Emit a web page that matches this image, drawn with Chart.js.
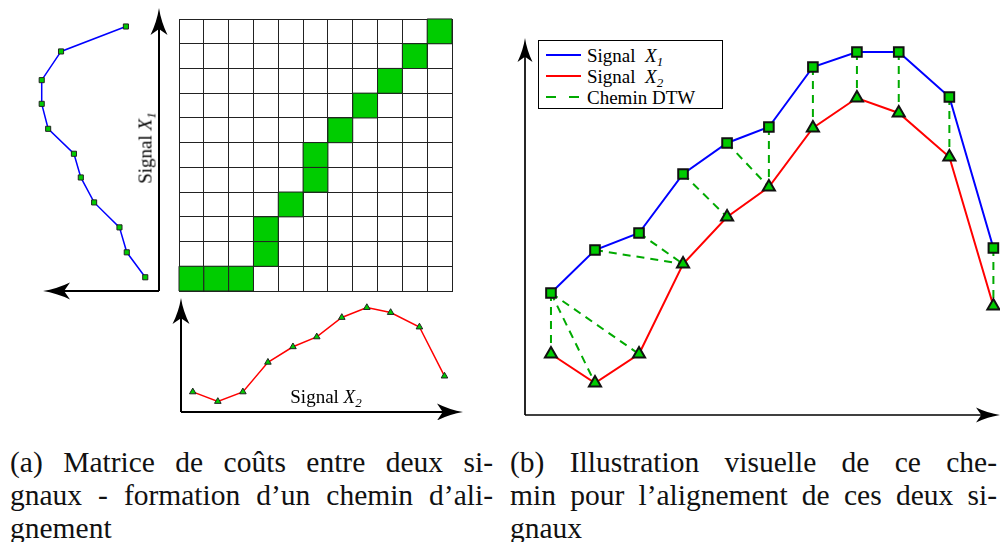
<!DOCTYPE html>
<html>
<head>
<meta charset="utf-8">
<script src="https://cdn.jsdelivr.net/npm/chart.js@4.4.1/dist/chart.umd.min.js"></script>
<style>
html, body { margin: 0; padding: 0; background: #fff; }
#page { position: relative; width: 1000px; height: 542px; overflow: hidden; }
canvas { position: absolute; }
.lbl { position: absolute; font-family: "Liberation Serif", "Times New Roman", serif; font-size: 19px; line-height: 1; color: #000; white-space: nowrap; }
.lbl sub, #legend sub { font-size: 13px; vertical-align: -4px; line-height: 0; }
.cap { position: absolute; font-family: "Liberation Serif", "Times New Roman", serif; font-size: 29.5px; line-height: 33px; color: #111; }
.cap span { display: block; white-space: nowrap; text-align: justify; text-align-last: justify; }
.cap span.last { text-align-last: left; }
#legend { position: absolute; left: 538px; top: 40px; width: 185px; height: 69px; border: 1.5px solid #000; box-sizing: border-box; background: #fff; }
#legend .row { position: absolute; left: 0; height: 21px; width: 100%; }
#legend svg { position: absolute; left: 7px; top: 0; }
#legend .txt { position: absolute; left: 48px; top: 1px; font-family: "Liberation Serif", "Times New Roman", serif; font-size: 19px; line-height: 19px; white-space: nowrap; }
</style>
</head>
<body>
<div id="page">
  <canvas id="sigX1" width="170" height="300" style="left:0;top:0"></canvas>
  <canvas id="matrix" width="290" height="290" style="left:170px;top:10px"></canvas>
  <canvas id="sigX2" width="310" height="135" style="left:160px;top:285px"></canvas>
  <canvas id="dtw" width="490" height="420" style="left:510px;top:15px"></canvas>

  <div class="lbl" style="left:145px;top:148px;transform:translate(-50%,-50%) rotate(-90deg)">Signal <i>X<sub>1</sub></i></div>
  <div class="lbl" style="left:326px;top:396px;transform:translate(-50%,-50%)">Signal <i>X<sub>2</sub></i></div>

  <div id="legend">
    <div class="row" style="top:4px">
      <svg width="36" height="21"><line x1="0" y1="10" x2="35" y2="10" stroke="#0000ff" stroke-width="2"/></svg>
      <div class="txt">Signal&nbsp; <i>X<sub>1</sub></i></div>
    </div>
    <div class="row" style="top:25px">
      <svg width="36" height="21"><line x1="0" y1="10" x2="35" y2="10" stroke="#ff0000" stroke-width="2"/></svg>
      <div class="txt">Signal&nbsp; <i>X<sub>2</sub></i></div>
    </div>
    <div class="row" style="top:46px">
      <svg width="36" height="21"><line x1="0" y1="10" x2="35" y2="10" stroke="#00aa00" stroke-width="2" stroke-dasharray="10,13"/></svg>
      <div class="txt">Chemin DTW</div>
    </div>
  </div>

  <div class="cap" style="left:10px;top:446px;width:483px">
    <span>(a) Matrice de coûts entre deux si-</span>
    <span>gnaux - formation d’un chemin d’ali-</span>
    <span class="last">gnement</span>
  </div>
  <div class="cap" style="left:510px;top:446px;width:487px">
    <span>(b) Illustration visuelle de ce che-</span>
    <span>min pour l’alignement de ces deux si-</span>
    <span class="last">gnaux</span>
  </div>
</div>

<script>
// instants d'échantillonnage (communs aux deux signaux)
const t = [1, 2, 3, 4, 5, 5.95, 6.95, 7.95, 8.9, 10.05, 11.05];
// valeurs des signaux
const signalX1 = [12.2, 16.5, 18.2, 24.1, 27.2, 28.8, 34.8, 36.3, 36.3, 31.8, 16.7];
const signalX2 = [6.1, 3.2, 6.1, 15.1, 19.8, 22.8, 28.7, 31.7, 30.2, 25.8, 10.9];
// chemin DTW : indice dans X1, indice dans X2
const pathX1 = [0, 0, 0, 1, 2, 3, 4, 5, 6, 7, 8, 9, 10];
const pathX2 = [0, 1, 2, 3, 3, 4, 5, 5, 6, 7, 8, 9, 10];
const nCells = 11;

const BLUE = '#0000ff';
const RED = '#ff0000';
const GREEN = '#00cc00';
const GREEN_DASH = '#00aa00';

// pointe de flèche type "stealth"
function arrowHead(ctx, x, y, ang, L, W) {
    ctx.save();
    ctx.translate(x, y);
    ctx.rotate(ang);
    ctx.beginPath();
    ctx.moveTo(0, 0);
    ctx.quadraticCurveTo(-L * 0.5, -W * 0.12, -L, -W / 2);
    ctx.lineTo(-L * 0.78, 0);
    ctx.lineTo(-L, W / 2);
    ctx.quadraticCurveTo(-L * 0.5, W * 0.12, 0, 0);
    ctx.fill();
    ctx.restore();
}

// axe = segment + flèche
function axis(ctx, x0, y0, x1, y1, L, W, lw) {
    const ang = Math.atan2(y1 - y0, x1 - x0);
    const ex = x1 - Math.cos(ang) * L * 0.7;
    const ey = y1 - Math.sin(ang) * L * 0.7;
    ctx.save();
    ctx.strokeStyle = '#000';
    ctx.fillStyle = '#000';
    ctx.lineWidth = lw;
    ctx.beginPath();
    ctx.moveTo(x0, y0);
    ctx.lineTo(ex, ey);
    ctx.stroke();
    arrowHead(ctx, x1, y1, ang, L, W);
    ctx.restore();
}

function baseOptions(pad, xs, ys) {
    return {
        responsive: false,
        animation: false,
        events: [],
        layout: { padding: pad, autoPadding: false },
        plugins: { legend: { display: false }, tooltip: { enabled: false } },
        scales: { x: xs, y: ys }
    };
}

// (a) signal X1, vertical
new Chart(document.getElementById('sigX1'), {
    type: 'scatter',
    data: {
        datasets: [{
            data: signalX1.map((v, i) => ({ x: v, y: t[i] })),
            showLine: true,
            borderColor: BLUE,
            borderWidth: 1.5,
            pointStyle: 'rect',
            pointRadius: 3.6,
            pointBackgroundColor: GREEN,
            pointBorderColor: '#222',
            pointBorderWidth: 1,
            clip: false
        }]
    },
    options: baseOptions({ left: 43, right: 11, top: 19, bottom: 9 },
        { type: 'linear', min: 9, max: 36, reverse: true, display: false },
        { type: 'linear', min: 0.45, max: 11.35, display: false }),
    plugins: [{
        id: 'axesX1',
        afterDraw(chart) {
            const a = chart.chartArea;
            axis(chart.ctx, a.right, a.bottom, a.right, a.top - 11, 27, 17, 2);
            axis(chart.ctx, a.right, a.bottom, a.left, a.bottom, 27, 17, 2);
        }
    }]
});

// (a) matrice de coûts
const cellSize = c => {
    const s = c.chart.scales.x;
    return Math.abs(s.getPixelForValue(1) - s.getPixelForValue(0)) / Math.SQRT2;
};
new Chart(document.getElementById('matrix'), {
    type: 'scatter',
    data: {
        datasets: [{
            data: pathX1.map((i, k) => ({ x: pathX2[k] + 0.5, y: i + 0.5 })),
            pointStyle: 'rect',
            pointRadius: cellSize,
            pointBackgroundColor: GREEN,
            pointBorderColor: '#222',
            pointBorderWidth: 1,
            clip: false
        }]
    },
    options: baseOptions({ left: 9, right: 8, top: 9, bottom: 9 },
        {
            type: 'linear', min: 0, max: nCells,
            ticks: { display: false, stepSize: 1 },
            grid: { color: '#222', lineWidth: 1, drawTicks: false },
            border: { display: true, color: '#222', width: 1 }
        },
        {
            type: 'linear', min: 0, max: nCells,
            ticks: { display: false, stepSize: 1 },
            grid: { color: '#222', lineWidth: 1, drawTicks: false },
            border: { display: true, color: '#222', width: 1 }
        })
});

// (a) signal X2, horizontal
new Chart(document.getElementById('sigX2'), {
    type: 'scatter',
    data: {
        datasets: [{
            data: signalX2.map((v, i) => ({ x: t[i], y: v })),
            showLine: true,
            borderColor: RED,
            borderWidth: 1.5,
            pointStyle: 'triangle',
            pointRadius: 3.8,
            pointBackgroundColor: GREEN,
            pointBorderColor: '#222',
            pointBorderWidth: 1,
            clip: false
        }]
    },
    options: baseOptions({ left: 19, right: 18, top: 15, bottom: 8 },
        { type: 'linear', min: 0.45, max: 11.35, display: false },
        { type: 'linear', min: 0, max: 34, display: false }),
    plugins: [{
        id: 'axesX2',
        afterDraw(chart) {
            const a = chart.chartArea;
            axis(chart.ctx, a.left + 2, a.bottom, a.left + 2, a.top - 2, 26, 17, 2);
            axis(chart.ctx, a.left + 2, a.bottom, a.right + 11, a.bottom, 26, 17, 2);
        }
    }]
});

// (b) illustration du chemin
const dtwSets = pathX1.map((i, k) => ({
    data: [{ x: t[i], y: signalX1[i] }, { x: t[pathX2[k]], y: signalX2[pathX2[k]] }],
    showLine: true,
    borderColor: GREEN_DASH,
    borderWidth: 2,
    borderDash: [8, 6],
    pointRadius: 0,
    clip: false
}));

new Chart(document.getElementById('dtw'), {
    type: 'scatter',
    data: {
        datasets: [
            {
                label: 'Signal X1',
                data: signalX1.map((v, i) => ({ x: t[i], y: v })),
                showLine: true,
                borderColor: BLUE,
                borderWidth: 2,
                pointStyle: 'rect',
                pointRadius: 6.8,
                pointBackgroundColor: GREEN,
                pointBorderColor: '#111',
                pointBorderWidth: 2,
                clip: false
            },
            {
                label: 'Signal X2',
                data: signalX2.map((v, i) => ({ x: t[i], y: v })),
                showLine: true,
                borderColor: RED,
                borderWidth: 2,
                pointStyle: 'triangle',
                pointRadius: 7,
                pointBackgroundColor: GREEN,
                pointBorderColor: '#111',
                pointBorderWidth: 2,
                clip: false
            },
            ...dtwSets
        ]
    },
    options: baseOptions({ left: 15, right: 0, top: 25, bottom: 20 },
        { type: 'linear', min: 0.41, max: 11.2, display: false },
        { type: 'linear', min: 0, max: 37.5, display: false }),
    plugins: [{
        id: 'axesDtw',
        afterDraw(chart) {
            const a = chart.chartArea;
            axis(chart.ctx, a.left, a.bottom, a.left, a.top - 2, 24, 15, 1.7);
            axis(chart.ctx, a.left, a.bottom, a.right, a.bottom, 24, 15, 1.7);
        }
    }]
});
</script>
</body>
</html>
